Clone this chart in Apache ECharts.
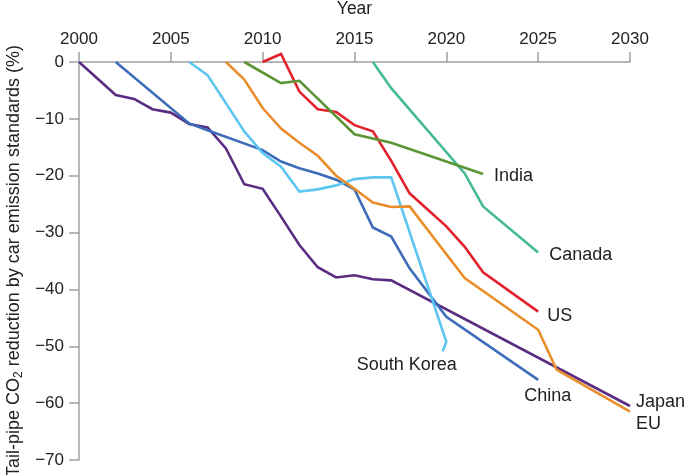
<!DOCTYPE html>
<html><head><meta charset="utf-8">
<script src="https://cdn.jsdelivr.net/npm/echarts@6/dist/echarts.min.js"></script>
<style>html,body{margin:0;padding:0;background:#fff}#c{width:685px;height:475px}</style>
</head><body><div id="c"></div>
<script>
// Data: [year, reduction %]
const japan = [[2000,0],[2001,-2.9],[2002,-5.8],[2003,-6.5],[2004,-8.3],[2005,-8.9],[2006,-10.9],[2007,-11.5],[2008,-15.2],[2009,-21.5],[2010,-22.3],[2011,-27.2],[2012,-32.2],[2013,-36.1],[2014,-37.9],[2015,-37.5],[2016,-38.2],[2017,-38.4],[2030,-60.5]];
const china = [[2002,0],[2006,-10.8],[2007,-12.0],[2010,-15.5],[2011,-17.5],[2012,-18.7],[2013,-19.6],[2014,-20.7],[2015,-22.4],[2016,-29.1],[2017,-30.7],[2018,-36.3],[2020,-44.8],[2025,-55.9]];
const southKorea = [[2006,0],[2007,-2.3],[2009,-12.2],[2010,-16.0],[2011,-18.4],[2012,-22.8],[2013,-22.4],[2014,-21.7],[2015,-20.6],[2016,-20.3],[2017,-20.3],[2020,-49.2],[2019.8,-50.9]];
const eu = [[2008,0],[2009,-3.1],[2010,-8.1],[2011,-11.7],[2012,-14.2],[2013,-16.5],[2014,-20.0],[2015,-22.3],[2016,-24.7],[2017,-25.5],[2018,-25.4],[2021,-38.0],[2025,-47.1],[2026,-54.1],[2030,-61.5]];
const us = [[2010,0],[2011,1.4],[2012,-5.2],[2013,-8.3],[2014,-8.8],[2015,-11.1],[2016,-12.2],[2017,-17.4],[2018,-23.1],[2020,-28.9],[2021,-32.5],[2022,-37.0],[2025,-43.9]];
const canada = [[2016,0],[2017,-4.6],[2021,-19.6],[2022,-25.4],[2025,-33.5]];
const india = [[2009,0],[2011,-3.7],[2012,-3.3],[2015,-12.7],[2017,-14.2],[2022,-19.7]];
const xTicks = [2000,2005,2010,2015,2020,2025,2030];
const yTicks = [0,-10,-20,-30,-40,-50,-60,-70];

const FONT = '"Liberation Sans", Arial, Helvetica, sans-serif';
function mk(name, data, color, offset) {
  return {
    name, type: 'line', data, showSymbol: false, symbol: 'none', clip: false,
    lineStyle: {color, width: 2.6, join: 'miter'}, itemStyle: {color},
    endLabel: {show: true, formatter: name, position: 'right', distance: 0, align: 'left',
      offset, fontFamily: FONT, fontSize: 18, color: '#222'},
    emphasis: {disabled: true}, animation: false
  };
}
const chart = echarts.init(document.getElementById('c'));
chart.setOption({
  backgroundColor: '#fff',
  animation: false,
  grid: {left: 79, right: 55, top: 62, bottom: 15, outerBoundsMode: 'none', containLabel: false},
  xAxis: {
    type: 'value', position: 'top', min: 2000, max: 2030, interval: 5,
    name: 'Year', nameLocation: 'middle', nameGap: 44,
    nameTextStyle: {fontFamily: FONT, fontSize: 17.5, color: '#222'},
    axisLine: {lineStyle: {color: '#a0a0a0', width: 1.5}},
    axisTick: {show: true, length: 10, lineStyle: {color: '#a0a0a0', width: 1.5}},
    axisLabel: {fontFamily: FONT, fontSize: 17, color: '#222', margin: 14,
      formatter: v => xTicks.includes(v) ? String(v) : ''},
    splitLine: {show: false}
  },
  yAxis: {
    type: 'value', min: -70, max: 0, interval: 10,
    name: '{a|Tail-pipe CO}{s|2}{a| reduction by car emission standards (%)}',
    nameLocation: 'middle', nameGap: 53, nameRotate: 90,
    nameTextStyle: {fontFamily: FONT, fontSize: 18, color: '#222',
      rich: {a: {fontFamily: FONT, fontSize: 18, color: '#222'},
             s: {fontFamily: FONT, fontSize: 12, color: '#222', verticalAlign: 'bottom', padding: [9,0,0,0]}}},
    axisLine: {show: true, lineStyle: {color: '#a0a0a0', width: 1.5}},
    axisTick: {show: true, length: 10, lineStyle: {color: '#a0a0a0', width: 1.5}},
    axisLabel: {fontFamily: FONT, fontSize: 17, color: '#222', margin: 15,
      formatter: v => yTicks.includes(v) ? (v < 0 ? '\u2212' + Math.abs(v) : String(v)) : ''},
    splitLine: {show: false}
  },
  series: [
    mk('Japan', japan, '#5a2d82', [6, -4]),
    mk('China', china, '#3d6cb9', [-14, 16]),
    mk('South Korea', southKorea, '#5ec6f2', [-86, 14]),
    mk('EU', eu, '#e88f2c', [6, 12]),
    mk('US', us, '#e3212d', [9, 4]),
    mk('Canada', canada, '#44bb92', [11, 3]),
    mk('India', india, '#5b9536', [11, 2])
  ]
});
</script></body></html>
